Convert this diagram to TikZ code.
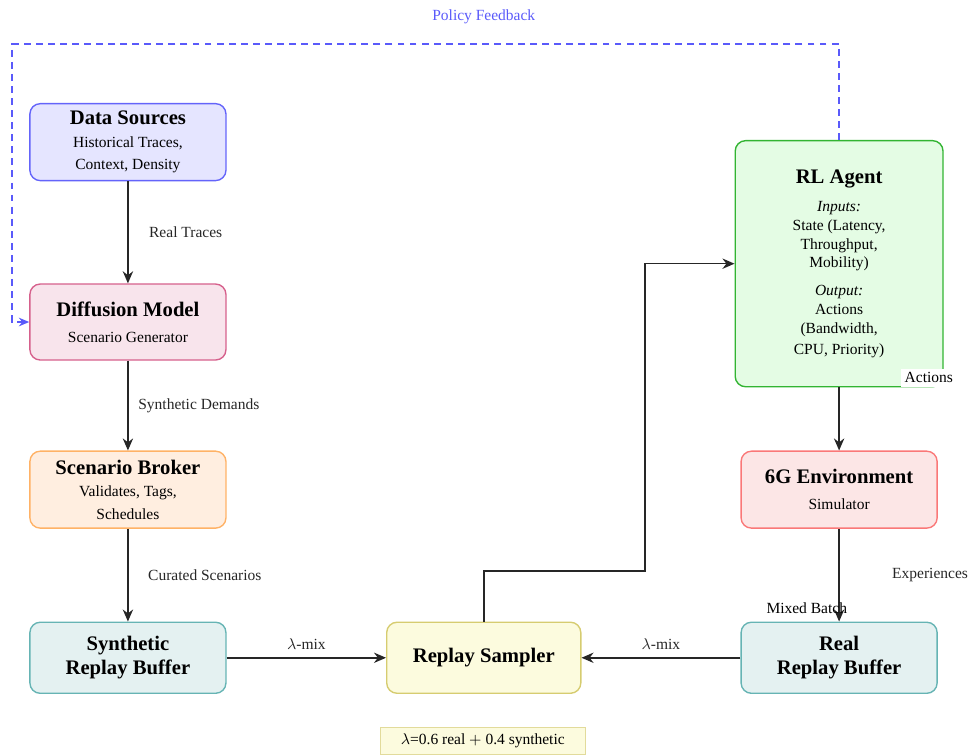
\documentclass[tikz,border=0pt]{standalone}
\usepackage{fontspec}
\setmainfont{Liberation Serif}
\usetikzlibrary{positioning, arrows.meta}

\definecolor{srcline}{RGB}{100,100,250}
\definecolor{srcfill}{RGB}{229,229,255}
\definecolor{diffline}{RGB}{214,96,140}
\definecolor{difffill}{RGB}{248,228,236}
\definecolor{brokline}{RGB}{255,178,102}
\definecolor{brokfill}{RGB}{255,238,224}
\definecolor{bufline}{RGB}{102,180,180}
\definecolor{buffill}{RGB}{228,241,241}
\definecolor{sampline}{RGB}{214,204,112}
\definecolor{sampfill}{RGB}{252,251,222}
\definecolor{agentline}{RGB}{50,180,50}
\definecolor{agentfill}{RGB}{228,252,228}
\definecolor{envline}{RGB}{250,120,120}
\definecolor{envfill}{RGB}{252,230,230}
\definecolor{fbblue}{RGB}{90,90,250}

\begin{document}
\begin{tikzpicture}[
    box/.style={draw, thick, rounded corners=6pt, align=center, font=\small,
                minimum width=4cm, minimum height=1.57cm, inner sep=3pt},
    flow/.style={-{Stealth[length=7pt,width=6pt]}, line width=0.9pt, black!85},
    feedback/.style={-{Stealth[length=6pt,width=5pt]}, line width=0.9pt, fbblue,
                     dash pattern=on 4pt off 3pt},
    lbl/.style={font=\small}
]
    \useasboundingbox (0,0) rectangle (19.77,15.40);

    % --- Left column: data -> scenarios ---
    \node[box, draw=srcline, fill=srcfill] (src) at (2.61,12.50)
        {{\large\bfseries Data Sources}\\[2pt] Historical Traces,\\[2pt] Context, Density};
    \node[box, draw=diffline, fill=difffill, minimum height=1.55cm] (diff) at (2.61,8.83)
        {{\large\bfseries Diffusion Model}\\[4pt] Scenario Generator};
    \node[box, draw=brokline, fill=brokfill] (broker) at (2.61,5.41)
        {{\large\bfseries Scenario Broker}\\[2pt] Validates, Tags,\\[2pt] Schedules};
    \node[box, draw=bufline, fill=buffill, minimum height=1.45cm, font=\large\bfseries] (synbuf) at (2.61,1.98)
        {Synthetic\\ Replay Buffer};

    % --- Bottom row: sampler and real buffer ---
    \node[box, draw=sampline, fill=sampfill, minimum width=3.96cm, minimum height=1.45cm, font=\large\bfseries] (sampler) at (9.87,1.98)
        {Replay Sampler};
    \node[box, draw=bufline, fill=buffill, minimum height=1.45cm, font=\large\bfseries] (realbuf) at (17.12,1.98)
        {Real\\ Replay Buffer};
    \node[draw=sampline!70, fill=sampfill, font=\small, minimum width=4.2cm, minimum height=0.56cm] (mixnote) at (9.85,0.29)
        {$\lambda$=0.6 real $+$ 0.4 synthetic};

    % --- Right column: agent and environment ---
    \node[box, draw=agentline, fill=agentfill, minimum width=4.24cm, minimum height=5.02cm] (agent) at (17.12,10.02)
        {{\large\bfseries RL Agent}\\[5pt] \textit{Inputs:}\\ State (Latency,\\ Throughput,\\ Mobility)\\[5pt]
         \textit{Output:}\\ Actions\\ (Bandwidth,\\[1pt] CPU, Priority)};
    \node[box, draw=envline, fill=envfill] (env) at (17.12,5.41)
        {{\large\bfseries 6G Environment}\\[4pt] Simulator};

    % --- Pipeline arrows ---
    \draw[flow] (src) -- node[lbl, right=0.3cm] {Real Traces} (diff);
    \draw[flow] (diff) -- node[lbl, right=0.08cm] {Synthetic Demands} (broker);
    \draw[flow] (broker) -- node[lbl, right=0.28cm] {Curated Scenarios} (synbuf);
    \draw[flow] (synbuf) -- node[lbl, above=1pt] {$\lambda$-mix} (sampler);
    \draw[flow] (realbuf) -- node[lbl, above=1pt] {$\lambda$-mix} (sampler);
    \draw[flow] (agent) -- (env);
    \draw[flow] (env) -- node[lbl, right=0.95cm] {Experiences} (realbuf);

    % batch from sampler up to the agent
    \coordinate (mbturn) at (13.16,3.75);
    \draw[flow] (sampler.north) |- (mbturn) |- (agent.west);
    \node[lbl] (mblbl) at (16.46,3.0) {Mixed Batch};
    \node[lbl, fill=white, inner sep=2pt] (actlbl) at (18.95,7.69) {Actions};

    % --- Policy feedback loop ---
    \coordinate (fbturn) at (0.25,14.5);
    \draw[feedback] (agent.north) |- (fbturn) |- (diff.west);
    \node[lbl, text=fbblue] (fblbl) at (9.87,15.06) {Policy Feedback};
\end{tikzpicture}
\end{document}
